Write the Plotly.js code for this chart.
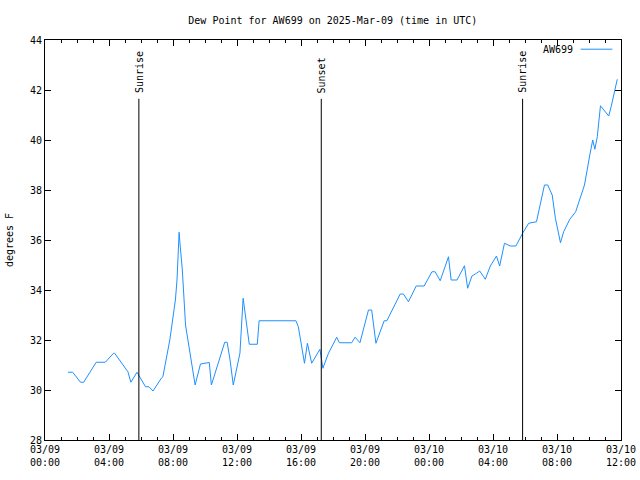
<!DOCTYPE html>
<html><head><meta charset="utf-8">
<script src="https://cdn.plot.ly/plotly-3.0.1.min.js"></script>
<style>html,body{margin:0;padding:0;background:#fff}</style>
</head><body><div id="chart" style="width:640px;height:480px"></div>
<script>
const times = [
"2025-03-09 01:26","2025-03-09 01:44","2025-03-09 02:13","2025-03-09 02:25","2025-03-09 03:12","2025-03-09 03:46",
"2025-03-09 04:17","2025-03-09 04:21","2025-03-09 05:11","2025-03-09 05:22","2025-03-09 05:45","2025-03-09 06:17",
"2025-03-09 06:30","2025-03-09 06:45","2025-03-09 07:16","2025-03-09 07:22","2025-03-09 07:48","2025-03-09 08:09",
"2025-03-09 08:15","2025-03-09 08:23","2025-03-09 08:25","2025-03-09 08:35","2025-03-09 08:47","2025-03-09 08:59",
"2025-03-09 09:16","2025-03-09 09:23","2025-03-09 09:43","2025-03-09 10:16","2025-03-09 10:24","2025-03-09 11:14",
"2025-03-09 11:23","2025-03-09 11:34","2025-03-09 11:46","2025-03-09 12:11","2025-03-09 12:23","2025-03-09 12:27",
"2025-03-09 12:34","2025-03-09 12:46","2025-03-09 13:16","2025-03-09 13:23","2025-03-09 15:41","2025-03-09 15:50",
"2025-03-09 16:13","2025-03-09 16:24","2025-03-09 16:40","2025-03-09 17:11","2025-03-09 17:22","2025-03-09 17:43",
"2025-03-09 18:14","2025-03-09 18:24","2025-03-09 19:10","2025-03-09 19:23","2025-03-09 19:41","2025-03-09 20:13",
"2025-03-09 20:25","2025-03-09 20:41","2025-03-09 21:12","2025-03-09 21:22","2025-03-09 22:12","2025-03-09 22:24",
"2025-03-09 22:43","2025-03-09 23:12","2025-03-09 23:42","2025-03-10 00:11","2025-03-10 00:23","2025-03-10 00:42",
"2025-03-10 01:13","2025-03-10 01:23","2025-03-10 01:45","2025-03-10 02:13","2025-03-10 02:25","2025-03-10 02:41",
"2025-03-10 02:58","2025-03-10 03:10","2025-03-10 03:25","2025-03-10 03:31","2025-03-10 03:50","2025-03-10 04:13",
"2025-03-10 04:25","2025-03-10 04:43","2025-03-10 05:05","2025-03-10 05:26","2025-03-10 05:52","2025-03-10 06:14",
"2025-03-10 06:43","2025-03-10 07:13","2025-03-10 07:25","2025-03-10 07:42","2025-03-10 07:54","2025-03-10 08:13",
"2025-03-10 08:25","2025-03-10 08:48","2025-03-10 09:10","2025-03-10 09:43","2025-03-10 10:03","2025-03-10 10:14",
"2025-03-10 10:22","2025-03-10 10:31","2025-03-10 10:43","2025-03-10 11:14","2025-03-10 11:23","2025-03-10 11:46"
];
const dewPoint = [
30.71,30.71,30.31,30.31,31.11,31.11,
31.47,31.47,30.73,30.31,30.71,30.13,
30.13,29.96,30.47,30.53,32.0,33.6,
34.4,36.31,36.0,34.8,32.6,31.75,
30.67,30.2,31.04,31.1,30.2,31.91,
31.91,31.2,30.2,31.47,33.67,33.33,
32.8,31.83,31.83,32.77,32.77,32.53,
31.07,31.87,31.07,31.63,30.87,31.47,
32.11,31.89,31.89,32.11,31.89,33.2,
33.2,31.87,32.77,32.77,33.84,33.84,
33.53,34.16,34.16,34.73,34.73,34.37,
35.33,34.4,34.4,34.97,34.07,34.56,
34.67,34.76,34.53,34.43,34.96,35.36,
34.96,35.87,35.76,35.76,36.29,36.67,
36.73,38.2,38.2,37.8,36.87,35.89,
36.33,36.83,37.13,38.2,39.4,40.0,
39.63,40.13,41.37,40.96,41.33,42.43
];
const eventTimes = ["2025-03-09 05:52","2025-03-09 17:16","2025-03-10 05:51"];
const eventLabels = ["Sunrise","Sunset","Sunrise"];
const seriesName = "AW699";

const font = {family: "DejaVu Sans Mono, monospace", size: 10, color: "#000"};
const shapes = eventTimes.map(t => ({type:"line", xref:"x", yref:"paper", x0:t, x1:t, y0:0, y1:0.853, line:{color:"#000", width:1}}));
shapes.push({type:"line", xref:"paper", yref:"paper", x0:0.93, x1:0.985, y0:0.977, y1:0.977, line:{color:"#1e90ff", width:1}});
const annotations = eventTimes.map((t,i) => ({x:t, xref:"x", y:0.862, yref:"paper", text:eventLabels[i], textangle:-90, showarrow:false, xanchor:"center", yanchor:"bottom", font:font}));
annotations.push({x:0.92, xref:"paper", y:0.977, yref:"paper", text:seriesName, showarrow:false, xanchor:"right", yanchor:"middle", font:font});

const layout = {
  width:640, height:480,
  margin:{l:45, r:19, t:40, b:40},
  paper_bgcolor:"#fff", plot_bgcolor:"#fff",
  font: font,
  showlegend:false,
  title:{text:"Dew Point for AW699 on 2025-Mar-09 (time in UTC)", font:font, x:0.52, xanchor:"center", y:0.958, yanchor:"middle"},
  xaxis:{type:"date", range:["2025-03-09 00:00","2025-03-10 12:00"], dtick:4*3600000, tick0:"2025-03-09 00:00",
    tickformat:"%m/%d<br>%H:%M", ticks:"inside", ticklen:6, tickcolor:"#000", showline:true, linecolor:"#000", linewidth:1,
    mirror:"ticks", showgrid:false, zeroline:false, tickfont:font,
    minor:{dtick:3600000, ticks:"inside", ticklen:3, tickcolor:"#000", showgrid:false}},
  yaxis:{range:[28,44], dtick:2, ticks:"inside", ticklen:6, tickcolor:"#000", showline:true, linecolor:"#000", linewidth:1,
    mirror:"ticks", showgrid:false, zeroline:false, tickfont:font,
    title:{text:"degrees F", font:font, standoff:14}},
  shapes: shapes,
  annotations: annotations
};
Plotly.newPlot("chart", [{x:times, y:dewPoint, type:"scatter", mode:"lines", name:seriesName, line:{color:"#1e90ff", width:1}}], layout, {staticPlot:true});
</script></body></html>
